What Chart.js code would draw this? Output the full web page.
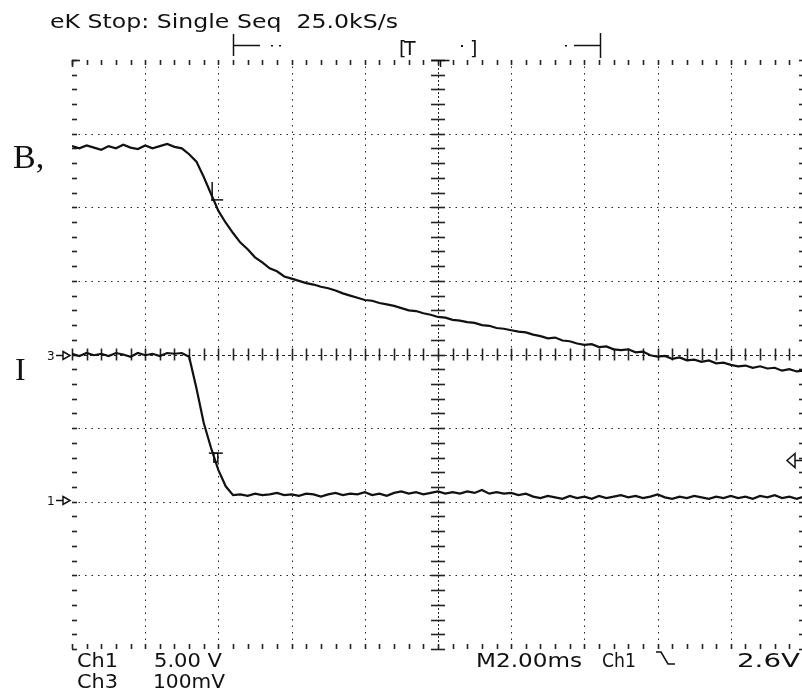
<!DOCTYPE html>
<html><head><meta charset="utf-8">
<script src="https://cdn.jsdelivr.net/npm/chart.js@4.4.0/dist/chart.umd.min.js"></script>
<style>
html,body{margin:0;padding:0;background:#fff;overflow:hidden;}
#wrap{position:relative;width:806px;height:694px;}
canvas{display:block;}
</style></head><body>
<div id="wrap"><canvas id="c" width="806" height="694"></canvas></div>
<script>
// ---- sample times (ms), timebase 2.00 ms/div, 10 divisions ----
const timeMs = [0,0.2,0.4,0.6,0.8,1,1.2,1.4,1.6,1.8,2,2.2,2.4,2.6,2.8,3,3.2,3.4,3.6,3.8,
4,4.2,4.4,4.6,4.8,5,5.2,5.4,5.6,5.8,6,6.2,6.4,6.6,6.8,7,7.2,7.4,7.6,7.8,
8,8.2,8.4,8.6,8.8,9,9.2,9.4,9.6,9.8,10,10.2,10.4,10.6,10.8,11,11.2,11.4,11.6,11.8,
12,12.2,12.4,12.6,12.8,13,13.2,13.4,13.6,13.8,14,14.2,14.4,14.6,14.8,15,15.2,15.4,15.6,15.8,
16,16.2,16.4,16.6,16.8,17,17.2,17.4,17.6,17.8,18,18.2,18.4,18.6,18.8,19,19.2,19.4,19.6,19.8,20];

// ---- trace B (screen divisions) ----
const traceB = [2.83,2.80,2.84,2.81,2.78,2.83,2.80,2.85,2.81,2.79,2.84,2.80,2.83,2.86,2.82,2.80,
2.72,2.62,2.41,2.18,1.95,1.79,1.65,1.52,1.43,1.32,1.25,1.17,1.13,1.06,1.03,
1.00,0.97,0.95,0.92,0.90,0.87,0.83,0.80,0.77,0.74,0.73,0.70,0.68,0.66,0.63,0.60,0.59,0.56,0.54,0.51,
0.50,0.47,0.46,0.44,0.43,0.40,0.39,0.36,0.35,0.33,0.31,0.30,0.27,0.25,0.22,0.23,0.19,0.18,0.15,0.13,
0.14,0.10,0.11,0.07,0.06,0.07,0.03,0.04,-0.01,-0.03,-0.02,-0.06,-0.04,-0.08,-0.07,-0.10,-0.08,-0.12,-0.11,-0.14,
-0.16,-0.15,-0.18,-0.16,-0.19,-0.18,-0.22,-0.20,-0.23,-0.22];

// ---- trace I (screen divisions) ----
const traceI = [0.01,-0.02,0.02,-0.01,0.01,-0.02,0.02,0.00,-0.03,0.02,-0.01,0.01,-0.02,0.02,0.01,0.02,
-0.03,-0.46,-0.93,-1.27,-1.57,-1.79,
-1.91,-1.90,-1.92,-1.89,-1.91,-1.90,-1.88,-1.91,-1.90,-1.92,-1.89,-1.90,-1.93,-1.90,-1.88,-1.91,-1.89,-1.90,
-1.87,-1.91,-1.89,-1.92,-1.88,-1.86,-1.89,-1.87,-1.90,-1.88,-1.86,-1.89,-1.87,-1.89,-1.86,-1.88,-1.84,-1.89,
-1.87,-1.89,-1.88,-1.91,-1.89,-1.93,-1.95,-1.92,-1.94,-1.96,-1.92,-1.95,-1.93,-1.96,-1.92,-1.95,-1.93,-1.91,
-1.94,-1.92,-1.95,-1.93,-1.90,-1.94,-1.96,-1.93,-1.95,-1.92,-1.94,-1.96,-1.93,-1.95,-1.92,-1.95,-1.93,-1.96,
-1.92,-1.94,-1.91,-1.95,-1.93,-1.96,-1.93];

// ---- graticule ----
const xMin = 0, xMax = 20, xMajorStep = 2, xMinorStep = 0.4;
const yMin = -4, yMax = 4, yMajorStep = 1, yMinorStep = 0.2;

// ---- readouts / labels ----
const headerText = "eK Stop: Single Seq  25.0kS/s";
const ch1Label = "Ch1", ch1Scale = "5.00 V";
const ch3Label = "Ch3", ch3Scale = "100mV";
const timebaseText = "M2.00ms", trigSourceText = "Ch1", trigLevelText = "2.6V";
const traceNames = ["B", "I"];
const groundMarks = [{label:"3", level:0.0}, {label:"1", level:-1.98}];
const trigLevelDiv = -1.43;
const cursorB = {t:3.83, v:2.10};
const cursorI = {t:3.93, v:-1.34};
const trigPosMs = 10.05;

function fitText(ctx, str, x, base, w, font){
  ctx.font = font;
  const m = ctx.measureText(str).width;
  ctx.save(); ctx.translate(x, base); ctx.scale(w/m, 1); ctx.fillText(str, 0, 0); ctx.restore();
}
function seg(ctx, x1, y1, x2, y2){ ctx.beginPath(); ctx.moveTo(x1,y1); ctx.lineTo(x2,y2); ctx.stroke(); }

const graticule = {
  id: 'graticule',
  beforeDatasetsDraw(chart){
    const {ctx, chartArea:a, scales:{x, y}} = chart;
    ctx.save();
    ctx.strokeStyle = '#222'; ctx.lineWidth = 1;
    const xc = x.getPixelForValue((xMin+xMax)/2), yc = y.getPixelForValue(0);
    // major dotted lines
    ctx.setLineDash([1.5, 5]);
    for (let v = xMin + xMajorStep; v < xMax - 1e-6; v += xMajorStep){
      if (Math.abs(v - (xMin+xMax)/2) < 1e-6) continue;
      const px = Math.round(x.getPixelForValue(v)) + 0.5;
      seg(ctx, px, a.top, px, a.bottom);
    }
    for (let v = yMin + yMajorStep; v < yMax - 1e-6; v += yMajorStep){
      if (Math.abs(v) < 1e-6) continue;
      const py = Math.round(y.getPixelForValue(v)) + 0.5;
      seg(ctx, a.left, py, a.right, py);
    }
    // center axes
    ctx.setLineDash([3, 3]);
    seg(ctx, a.left, Math.round(yc)+0.5, a.right, Math.round(yc)+0.5);
    ctx.setLineDash([2, 2]);
    seg(ctx, Math.round(xc)+0.5, a.top, Math.round(xc)+0.5, a.bottom);
    ctx.setLineDash([]);
    ctx.lineWidth = 1.6;
    // minor ticks along center axes and border
    const nX = Math.round((xMax-xMin)/xMinorStep);
    for (let k = 0; k <= nX; k++){
      const px = Math.round(x.getPixelForValue(xMin + k*xMinorStep)) + 0.5;
      seg(ctx, px, yc-6, px, yc+6);
      seg(ctx, px, a.top, px, a.top+5);
      seg(ctx, px, a.bottom-5, px, a.bottom);
    }
    const nY = Math.round((yMax-yMin)/yMinorStep);
    for (let k = 0; k <= nY; k++){
      const py = Math.round(y.getPixelForValue(yMin + k*yMinorStep)) + 0.5;
      seg(ctx, xc-7, py, xc+7, py);
      seg(ctx, a.left, py, a.left+5, py);
      seg(ctx, a.right-5, py, a.right, py);
    }
    // top-left corner
    seg(ctx, a.left, a.top+0.5, a.left+8, a.top+0.5);
    seg(ctx, a.left+0.5, a.top, a.left+0.5, a.top+7);
    ctx.restore();
  },
  afterDraw(chart){
    const {ctx, chartArea:a, scales:{x, y}} = chart;
    ctx.save();
    ctx.fillStyle = '#111'; ctx.strokeStyle = '#111'; ctx.lineWidth = 1.5;
    ctx.textBaseline = 'alphabetic';
    const sans = "DejaVu Sans";
    fitText(ctx, headerText, 50, 28, 348, `19px ${sans}`);
    fitText(ctx, ch1Label, 77, 667, 41, `19px ${sans}`);
    fitText(ctx, ch1Scale, 154, 667, 68, `19px ${sans}`);
    fitText(ctx, ch3Label, 77, 688, 41, `19px ${sans}`);
    fitText(ctx, ch3Scale, 153, 688, 72, `19px ${sans}`);
    fitText(ctx, timebaseText, 476, 667, 106, `19px ${sans}`);
    fitText(ctx, trigSourceText, 602, 667, 34, `19px ${sans}`);
    fitText(ctx, trigLevelText, 737, 667, 63, `19px ${sans}`);
    // falling slope symbol
    ctx.beginPath(); ctx.moveTo(656,652); ctx.lineTo(661,652); ctx.lineTo(668,664); ctx.lineTo(675,664); ctx.stroke();
    // trace names
    ctx.font = "34px 'Liberation Serif'";
    ctx.fillText(traceNames[0] + ",", 13, 168);
    ctx.font = "32px 'Liberation Serif'";
    ctx.fillText(traceNames[1], 15, 380);
    // ground markers
    ctx.font = "12px 'DejaVu Sans'";
    groundMarks.forEach(g=>{
      const py = Math.round(y.getPixelForValue(g.level)) + 0.5;
      ctx.fillText(g.label, 47, py+4);
      seg(ctx, 56, py, 63, py);
      ctx.beginPath(); ctx.moveTo(63, py-4); ctx.lineTo(70, py); ctx.lineTo(63, py+4); ctx.closePath(); ctx.stroke();
    });
    // trigger level arrow (right)
    {
      const py = Math.round(y.getPixelForValue(trigLevelDiv)) + 0.5;
      ctx.beginPath(); ctx.moveTo(795, py-7); ctx.lineTo(787, py); ctx.lineTo(795, py+7); ctx.closePath(); ctx.stroke();
      seg(ctx, 795, py, 803, py);
    }
    // top position bar
    seg(ctx, 233.5, 34, 233.5, 56); seg(ctx, 233, 45.5, 260, 45.5);
    seg(ctx, 600.5, 33, 600.5, 58); seg(ctx, 574, 45.5, 600, 45.5);
    ctx.fillRect(271, 45, 2, 1.5); ctx.fillRect(279, 45, 2, 1.5); ctx.fillRect(565, 45, 2, 1.5);
    ctx.font = "19px 'DejaVu Sans'";
    ctx.fillText("[", 399, 55);
    ctx.fillText("T", 404, 55);
    ctx.fillText("]", 470, 55);
    ctx.fillRect(461, 45, 2, 2);
    // trigger position marker on top border
    {
      const px = Math.round(x.getPixelForValue(trigPosMs)) + 0.5;
      seg(ctx, px-9, a.top+0.5, px+9, a.top+0.5); seg(ctx, px, a.top, px, a.top+7);
    }
    // cursors
    {
      const px = x.getPixelForValue(cursorB.t), py = y.getPixelForValue(cursorB.v);
      seg(ctx, px, py-18, px, py+1); seg(ctx, px-1, py, px+11, py);
    }
    {
      const px = x.getPixelForValue(cursorI.t), py = y.getPixelForValue(cursorI.v);
      seg(ctx, px-7, py, px+7, py); ctx.strokeRect(px-2, py, 4, 9);
    }
    ctx.restore();
  }
};

new Chart(document.getElementById('c'), {
  type: 'line',
  data: {
    datasets: [
      { label: traceNames[0], data: timeMs.map((t,i)=>({x:t, y:traceB[i]})),
        borderColor: '#111', borderWidth: 2.2, pointRadius: 0, tension: 0, fill: false },
      { label: traceNames[1], data: timeMs.map((t,i)=>({x:t, y:traceI[i]})),
        borderColor: '#111', borderWidth: 2.2, pointRadius: 0, tension: 0, fill: false }
    ]
  },
  options: {
    responsive: false, animation: false, devicePixelRatio: 1,
    layout: { padding: { left: 72, top: 60, right: 2, bottom: 45 } },
    plugins: { legend: { display: false }, tooltip: { enabled: false } },
    scales: {
      x: { type: 'linear', min: xMin, max: xMax, display: false },
      y: { type: 'linear', min: yMin, max: yMax, display: false }
    }
  },
  plugins: [graticule]
});
</script>
</body></html>
